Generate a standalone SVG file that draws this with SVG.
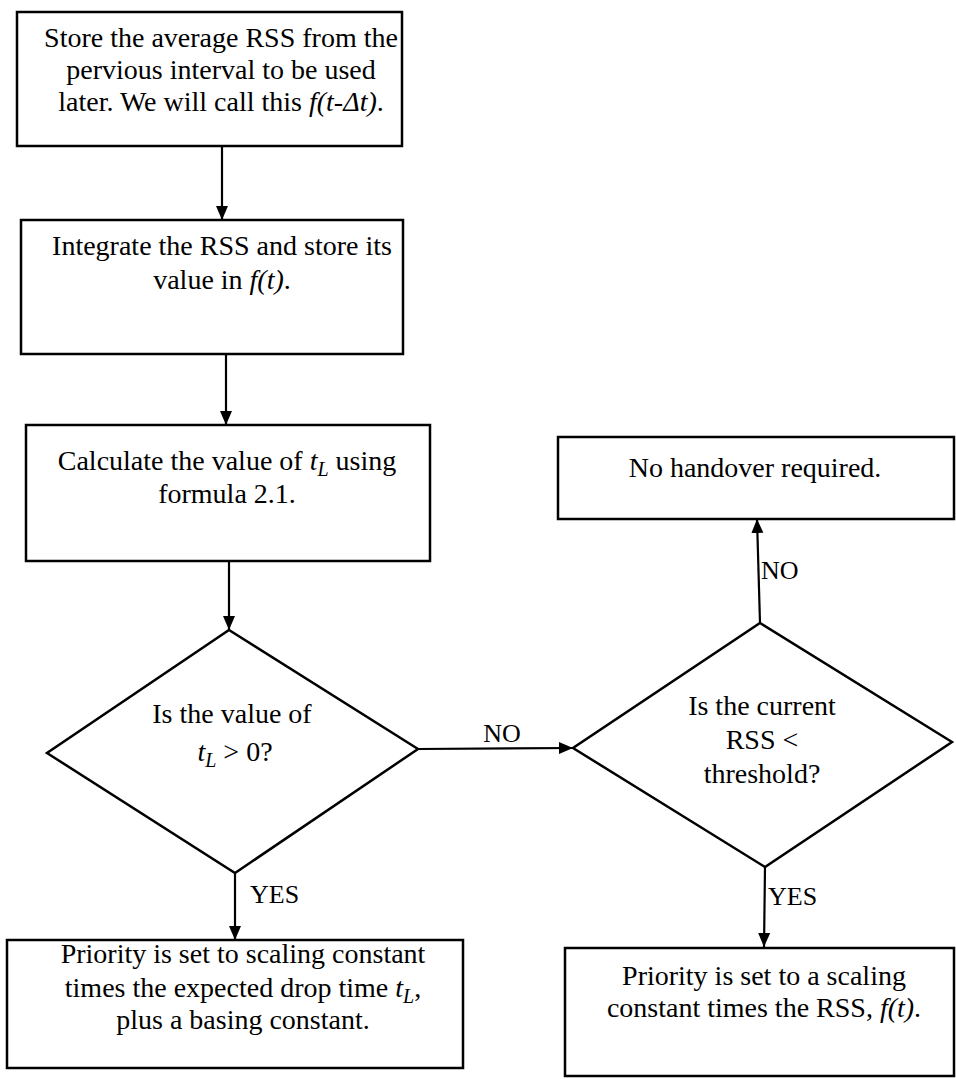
<svg xmlns="http://www.w3.org/2000/svg" width="956" height="1079" viewBox="0 0 956 1079">
  <style>
    .box { fill: #ffffff; stroke: #000000; stroke-width: 2.5; }
    .dia { fill: #ffffff; stroke: #000000; stroke-width: 2.5; stroke-linejoin: miter; }
    .edge { fill: none; stroke: #000000; stroke-width: 2.2; }
    .t { font-family: "Liberation Serif", "Times New Roman", serif; font-size: 28px; fill: #000000; text-anchor: middle; }
    .lbl { font-family: "Liberation Serif", "Times New Roman", serif; font-size: 26px; fill: #000000; }
    .it { font-style: italic; }
    .sub { font-style: italic; font-size: 20px; }
  </style>
  <defs>
    <marker id="arrow" markerUnits="userSpaceOnUse" markerWidth="14" markerHeight="14" viewBox="0 0 14 12" refX="14" refY="6" orient="auto">
      <path d="M0,0 L14,6 L0,12 Z" fill="#000000"/>
    </marker>
  </defs>
  <rect width="956" height="1079" fill="#ffffff"/>

  <!-- connectors -->
  <g id="connectors">
    <line class="edge" x1="222" y1="146" x2="222" y2="220" marker-end="url(#arrow)"/>
    <line class="edge" x1="226" y1="354" x2="226" y2="425" marker-end="url(#arrow)"/>
    <line class="edge" x1="229" y1="561" x2="229" y2="630" marker-end="url(#arrow)"/>
    <line class="edge" x1="418" y1="749" x2="573" y2="748" marker-end="url(#arrow)"/>
    <text class="lbl" x="502" y="742" text-anchor="middle">NO</text>
    <line class="edge" x1="235" y1="873" x2="235" y2="940" marker-end="url(#arrow)"/>
    <text class="lbl" x="250" y="903">YES</text>
    <line class="edge" x1="760" y1="623" x2="757" y2="519" marker-end="url(#arrow)"/>
    <text class="lbl" x="761" y="579">NO</text>
    <line class="edge" x1="765" y1="867" x2="764" y2="947" marker-end="url(#arrow)"/>
    <text class="lbl" x="768" y="905">YES</text>
  </g>

  <g id="store-previous">
    <rect class="box" x="17" y="12" width="385" height="134"/>
    <text class="t" x="221" y="47">Store the average RSS from the</text>
    <text class="t" x="221" y="79">pervious interval to be used</text>
    <text class="t" x="221" y="111">later. We will call this <tspan class="it">f(t-Δt)</tspan>.</text>
  </g>

  <g id="integrate">
    <rect class="box" x="21" y="220" width="382" height="134"/>
    <text class="t" x="222" y="255">Integrate the RSS and store its</text>
    <text class="t" x="222" y="289">value in <tspan class="it">f(t)</tspan>.</text>
  </g>

  <g id="calculate">
    <rect class="box" x="26" y="425" width="404" height="136"/>
    <text class="t" x="227" y="470">Calculate the value of <tspan class="it">t</tspan><tspan class="sub" dy="6">L</tspan><tspan dy="-6"> using</tspan></text>
    <text class="t" x="227" y="503">formula 2.1.</text>
  </g>

  <g id="decision-tl">
    <polygon class="dia" points="229,630 418,749 235,873 47,753"/>
    <text class="t" x="232" y="723">Is the value of</text>
    <text class="t" x="235" y="761"><tspan class="it">t</tspan><tspan class="sub" dy="6">L</tspan><tspan dy="-6">  &gt; 0?</tspan></text>
  </g>

  <g id="no-handover">
    <rect class="box" x="558" y="437" width="396" height="82"/>
    <text class="t" x="755" y="477">No handover required.</text>
  </g>

  <g id="decision-rss">
    <polygon class="dia" points="760,623 952,742 765,867 573,748"/>
    <text class="t" x="762" y="715">Is the current</text>
    <text class="t" x="762" y="749">RSS &lt;</text>
    <text class="t" x="762" y="783">threshold?</text>
  </g>

  <g id="priority-drop-time">
    <rect class="box" x="7" y="940" width="456" height="128"/>
    <text class="t" x="243" y="963">Priority is set to scaling constant</text>
    <text class="t" x="243" y="997">times the expected drop time <tspan class="it">t</tspan><tspan class="sub" dy="6">L</tspan><tspan dy="-6">,</tspan></text>
    <text class="t" x="243" y="1029">plus a basing constant.</text>
  </g>

  <g id="priority-rss">
    <rect class="box" x="565" y="948" width="389" height="128"/>
    <text class="t" x="764" y="985">Priority is set to a scaling</text>
    <text class="t" x="764" y="1017">constant times the RSS, <tspan class="it">f(t)</tspan>.</text>
  </g>
</svg>
